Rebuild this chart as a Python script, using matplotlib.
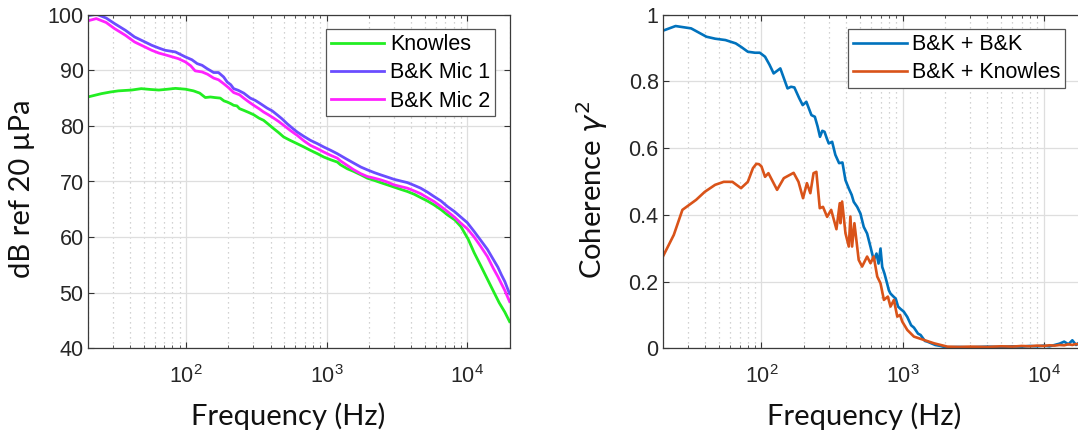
import matplotlib
matplotlib.use('Agg')
import matplotlib.pyplot as plt
from matplotlib.ticker import LogLocator, NullFormatter, FuncFormatter, FixedLocator

# ---------------- data ----------------
# Left panel: sound level, dB ref 20 uPa
knowles_f = [20, 25, 29, 33, 41, 48, 56, 64, 74, 84, 99, 113, 125, 137, 149, 160, 175, 186,
             196, 208, 218, 230, 240, 257, 280, 303, 330, 356, 385, 420, 455, 495, 550, 617,
             690, 767, 860, 954, 1070, 1190, 1255, 1400, 1561, 1750, 1945, 2180, 2420, 2700,
             3010, 3350, 3750, 4200, 4665, 5200, 5800, 6540, 7230, 8150, 9000, 10160, 11190,
             12500, 13930, 15530, 16860, 18500, 20000]
knowles_db = [85.2, 85.8, 86.1, 86.3, 86.45, 86.7, 86.55, 86.45, 86.6, 86.75, 86.6, 86.3, 85.9,
              85.1, 85.2, 85.1, 85.0, 84.5, 84.3, 84.0, 83.7, 83.6, 83.1, 82.8, 82.4, 82.0, 81.4,
              81.0, 80.3, 79.5, 78.8, 78.0, 77.4, 76.8, 76.2, 75.6, 75.0, 74.4, 73.9, 73.5, 73.0,
              72.3, 71.8, 71.2, 70.6, 70.2, 69.8, 69.4, 69.0, 68.6, 68.2, 67.7, 67.1, 66.5, 65.8,
              64.9, 64.0, 63.1, 61.9, 59.6, 57.2, 54.8, 52.4, 50.0, 48.2, 46.5, 44.8]

mic1_f = [20, 23, 27, 31, 37, 43, 50, 57, 64, 71, 84, 99, 110, 120, 130, 141, 150, 157, 170,
          185, 196, 208, 218, 235, 257, 286, 310, 338, 377, 410, 444, 480, 523, 570, 617, 690,
          767, 860, 954, 1070, 1190, 1370, 1560, 1750, 1945, 2180, 2420, 2700, 3010, 3350, 3750,
          4200, 4665, 5200, 5800, 6500, 7230, 8100, 9000, 10000, 11200, 12400, 13900, 15300,
          16500, 17500, 18500, 19300, 20000]
mic1_db = [99.8, 100.1, 99.4, 98.4, 97.2, 96.0, 95.2, 94.5, 94.0, 93.6, 93.3, 92.4, 91.9, 91.2,
           90.9, 90.3, 89.9, 89.6, 89.6, 88.8, 87.9, 87.4, 86.7, 86.4, 85.9, 85.0, 84.6, 84.0,
           83.2, 82.7, 82.0, 81.3, 80.4, 79.6, 78.9, 78.1, 77.4, 76.8, 76.2, 75.6, 75.0, 74.1,
           73.3, 72.6, 72.1, 71.6, 71.2, 70.8, 70.4, 70.1, 69.8, 69.3, 68.8, 68.1, 67.3, 66.5,
           65.5, 64.6, 63.6, 62.6, 61.0, 59.5, 57.8, 56.0, 54.6, 53.2, 52.0, 50.8, 49.8]

mic2_f = [20, 23, 27, 31, 37, 43, 50, 57, 64, 73, 88, 99, 108, 116, 130, 142, 157, 170, 185,
          200, 218, 240, 257, 280, 303, 330, 356, 385, 420, 455, 495, 550, 617, 690, 767, 860,
          954, 1070, 1190, 1255, 1400, 1561, 1750, 1945, 2180, 2420, 2700, 3010, 3350, 3750,
          4200, 4665, 5200, 5800, 6500, 7230, 8100, 9000, 10000, 11200, 12400, 13900, 15300,
          16500, 17500, 18500, 19300, 20000]
mic2_db = [98.9, 99.3, 98.6, 97.5, 96.3, 95.1, 94.3, 93.6, 93.1, 92.7, 92.1, 91.5, 90.8, 89.9,
           89.7, 89.3, 88.6, 88.3, 87.6, 86.9, 86.0, 85.6, 85.0, 84.3, 83.7, 83.1, 82.5, 82.0,
           81.4, 80.8, 80.1, 79.2, 78.3, 77.3, 76.5, 75.9, 75.3, 74.7, 74.2, 73.7, 72.9, 72.1,
           71.4, 70.9, 70.6, 70.3, 69.9, 69.4, 69.1, 68.8, 68.3, 67.8, 67.1, 66.4, 65.5, 64.6,
           63.6, 62.5, 61.5, 60.0, 58.4, 56.5, 54.4, 52.9, 51.6, 50.4, 49.3, 48.4]

# Right panel: coherence
bkbk_f = [20, 24.6, 31.7, 40.7, 47, 55.5, 65.7, 72, 80, 90, 97.3, 106, 114, 122, 136, 144, 153,
          162, 171, 185, 196, 208, 226, 239, 250, 260, 270, 280, 290, 300, 317, 334, 355, 375,
          394, 416, 436, 451, 477, 503, 531, 561, 593, 625, 654, 676, 698, 718, 745, 778, 800,
          822, 868, 895, 930, 968, 1020, 1081, 1151, 1205, 1288, 1343, 1442, 1500, 1706, 1864,
          2018, 2500, 3000, 4000, 5000, 6000, 7000, 8000, 9000, 10000, 11000, 12000, 13000,
          14000, 15000, 16000, 17000, 18000, 19000, 20000]
bkbk_coh = [0.952, 0.966, 0.959, 0.934, 0.928, 0.924, 0.914, 0.903, 0.889, 0.886, 0.886, 0.874,
            0.850, 0.824, 0.839, 0.810, 0.779, 0.784, 0.782, 0.750, 0.729, 0.739, 0.699, 0.694,
            0.665, 0.634, 0.652, 0.649, 0.630, 0.614, 0.619, 0.580, 0.555, 0.557, 0.504, 0.479,
            0.460, 0.439, 0.424, 0.404, 0.364, 0.344, 0.304, 0.264, 0.284, 0.254, 0.299, 0.244,
            0.224, 0.194, 0.174, 0.164, 0.154, 0.149, 0.125, 0.118, 0.110, 0.094, 0.069, 0.062,
            0.044, 0.040, 0.022, 0.020, 0.010, 0.007, 0.003, 0.004, 0.003, 0.005, 0.004, 0.006,
            0.005, 0.007, 0.006, 0.008, 0.006, 0.010, 0.014, 0.020, 0.012, 0.024, 0.010, 0.018,
            0.014, 0.020]

bkkn_f = [20, 23.9, 27.5, 34.4, 39.6, 46.9, 54, 62.2, 71.6, 80, 87, 92, 96, 100, 106, 112, 129,
          144, 169, 183, 197, 210, 222, 234, 245, 259, 273, 292, 312, 340, 359, 363, 373, 394,
          416, 427, 439, 456, 489, 517, 561, 593, 625, 662, 698, 738, 787, 822, 869, 918, 960,
          996, 1081, 1205, 1419, 1671, 2080, 2500, 3000, 4000, 5000, 6000, 7000, 8000, 9000,
          10000, 11000, 12000, 13000, 14000, 15000, 16000, 17000, 18000, 19000, 20000]
bkkn_coh = [0.275, 0.340, 0.415, 0.445, 0.469, 0.490, 0.499, 0.499, 0.480, 0.499, 0.540, 0.553,
            0.552, 0.545, 0.514, 0.525, 0.475, 0.510, 0.526, 0.499, 0.450, 0.495, 0.465, 0.525,
            0.529, 0.420, 0.424, 0.394, 0.415, 0.357, 0.435, 0.375, 0.440, 0.345, 0.305, 0.395,
            0.305, 0.375, 0.265, 0.245, 0.275, 0.255, 0.275, 0.215, 0.195, 0.145, 0.155, 0.125,
            0.145, 0.095, 0.100, 0.080, 0.055, 0.035, 0.025, 0.015, 0.005, 0.004, 0.005, 0.004,
            0.006, 0.005, 0.007, 0.006, 0.008, 0.007, 0.009, 0.008, 0.010, 0.009, 0.012, 0.010,
            0.013, 0.011, 0.014, 0.012]

left_yticks = [40, 50, 60, 70, 80, 90, 100]
right_yticks = [0, 0.2, 0.4, 0.6, 0.8, 1.0]

# ---------------- figure ----------------
W, H = 1078, 436
fig = plt.figure(figsize=(W / 100, H / 100), dpi=100)
fig.patch.set_facecolor('white')

LABEL_FONT = ['Lato', 'DejaVu Sans']
TICK_FONT = ['Liberation Sans', 'DejaVu Sans']
plt.rcParams['mathtext.fontset'] = 'dejavusans'

ax1 = fig.add_axes([87.8 / W, 1 - 348.3 / H, 421.8 / W, 333.6 / H])
ax2 = fig.add_axes([662.9 / W, 1 - 348.3 / H, 423.1 / W, 333.6 / H])


def style(ax):
    ax.set_xscale('log')
    ax.set_xlim(20, 20000)
    ax.xaxis.set_major_locator(FixedLocator([100, 1000, 10000]))
    ax.xaxis.set_minor_locator(LogLocator(base=10, subs=range(2, 10), numticks=100))
    ax.xaxis.set_minor_formatter(NullFormatter())
    ax.grid(which='major', color='#dedede', lw=0.9, ls='-')
    ax.grid(which='minor', axis='x', color='#c4c4c4', lw=0.9, ls=(0, (1, 3)))
    ax.set_axisbelow(True)
    ax.tick_params(which='both', direction='in', top=True, right=True, color='#333333',
                   labelsize=15.5, labelcolor='#262626', pad=3)
    ax.tick_params(axis='x', which='major', pad=12)
    ax.tick_params(which='major', length=4, width=0.8)
    ax.tick_params(which='minor', length=2.5, width=0.6)
    for s in ax.spines.values():
        s.set_color('#3a3a3a')
        s.set_linewidth(0.9)
    for lab in ax.get_xticklabels() + ax.get_yticklabels():
        lab.set_family(TICK_FONT)


LEG_KW = dict(loc='upper right', borderaxespad=0, fancybox=False, framealpha=1,
              edgecolor='#555555', handlelength=2.5, handletextpad=0.25,
              labelspacing=0.34, borderpad=0.22,
              prop={'family': TICK_FONT, 'size': 15.5})

# Left panel
ax1.plot(knowles_f, knowles_db, color='#22ee22', lw=2.0, label='Knowles')
ax1.plot(mic1_f, mic1_db, color='#6a4dff', lw=2.0, label='B&K Mic 1')
ax1.plot(mic2_f, mic2_db, color='#ff22ff', lw=2.0, label='B&K Mic 2')
ax1.set_ylim(40, 100)
ax1.set_yticks(left_yticks)
style(ax1)
ax1.set_xlabel('Frequency (Hz)', fontsize=21, family=LABEL_FONT, color='#111111')
ax1.set_ylabel('dB ref 20 µPa', fontsize=21, family=LABEL_FONT, color='#111111')
ax1.xaxis.set_label_coords(0.476, -0.163)
ax1.yaxis.set_label_coords(-0.125, 0.479)
leg1 = ax1.legend(bbox_to_anchor=(494.8 / W, 1 - 29.3 / H), bbox_transform=fig.transFigure,
                  **LEG_KW)
leg1.get_frame().set_linewidth(0.9)

# Right panel
ax2.plot(bkbk_f, bkbk_coh, color='#0072BD', lw=1.9, label='B&K + B&K')
ax2.plot(bkkn_f, bkkn_coh, color='#D95319', lw=1.9, label='B&K + Knowles')
ax2.set_ylim(0, 1)
ax2.set_yticks(right_yticks)
ax2.yaxis.set_major_formatter(FuncFormatter(lambda v, p: '%g' % v))
style(ax2)
ax2.set_xlabel('Frequency (Hz)', fontsize=21, family=LABEL_FONT, color='#111111')
ax2.set_ylabel('Coherence $\\gamma^2$', fontsize=21, family=LABEL_FONT, color='#111111')
ax2.xaxis.set_label_coords(0.475, -0.163)
ax2.yaxis.set_label_coords(-0.124, 0.475)
leg2 = ax2.legend(bbox_to_anchor=(1065 / W, 1 - 29.3 / H), bbox_transform=fig.transFigure,
                  **LEG_KW)
leg2.get_frame().set_linewidth(0.9)

fig.savefig('out.png', dpi=100, facecolor='white')
